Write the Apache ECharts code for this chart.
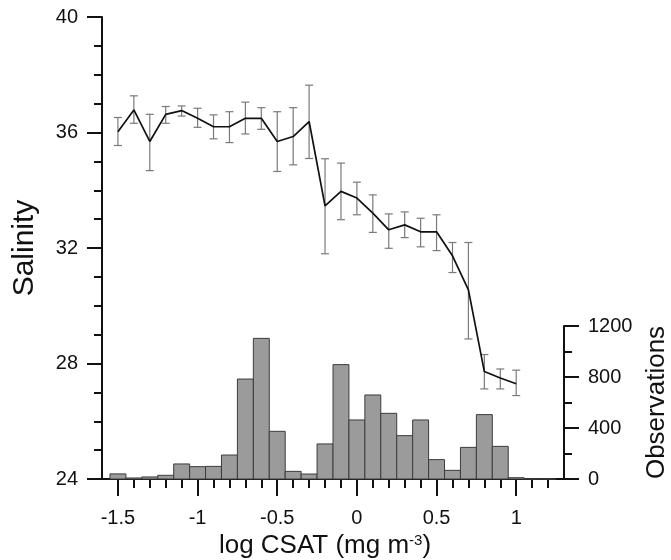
<!DOCTYPE html>
<html>
<head>
    <meta charset="utf-8">
    <title>Salinity vs log CSAT</title>
    <script src="https://cdn.jsdelivr.net/npm/echarts/dist/echarts.min.js"></script>
    <style>
        html, body {margin: 0; padding: 0; background: #fff;}
        #main {width: 671px; height: 560px;}
    </style>
</head>
<body>
<div id="main"></div>
<script>
    // 盐度均值及误差
    var xValues = [-1.5, -1.4, -1.3, -1.2, -1.1, -1.0, -0.9, -0.8, -0.7, -0.6, -0.5, -0.4, -0.3,
        -0.2, -0.1, 0.0, 0.1, 0.2, 0.3, 0.4, 0.5, 0.6, 0.7, 0.8, 0.9, 1.0];
    var salinity = [36.03, 36.78, 35.69, 36.63, 36.76, 36.49, 36.2, 36.2, 36.49, 36.49, 35.69, 35.86, 36.38,
        33.46, 33.96, 33.73, 33.21, 32.63, 32.80, 32.56, 32.56, 31.73, 30.55, 27.72, 27.50, 27.30];
    var errHigh = [36.52, 37.27, 36.63, 36.90, 36.92, 36.84, 36.61, 36.72, 37.05, 36.86, 36.72, 36.86, 37.64,
        35.09, 34.94, 34.28, 33.84, 33.18, 33.25, 33.03, 33.15, 32.19, 32.19, 28.31, 27.81, 27.77];
    var errLow = [35.55, 36.32, 34.68, 36.32, 36.57, 36.18, 35.78, 35.65, 35.95, 36.11, 34.65, 34.88, 35.10,
        31.80, 32.98, 33.15, 32.54, 31.99, 32.36, 32.04, 31.91, 31.15, 28.85, 27.12, 27.12, 26.89];

    // 观测数直方图
    var histX = [-1.5, -1.4, -1.3, -1.2, -1.1, -1.0, -0.9, -0.8, -0.7, -0.6, -0.5, -0.4, -0.3, -0.2,
        -0.1, 0.0, 0.1, 0.2, 0.3, 0.4, 0.5, 0.6, 0.7, 0.8, 0.9, 1.0, 1.1, 1.2];
    var histCount = [40, 8, 16, 29, 118, 97, 99, 188, 784, 1103, 374, 60, 39, 275,
        897, 463, 659, 515, 340, 463, 152, 68, 248, 505, 256, 10, 0, 0];

    // 刻度
    var xMajorTicks = [-1.5, -1, -0.5, 0, 0.5, 1];
    var xMinorTicks = [-1.5, -1.4, -1.3, -1.2, -1.1, -1.0, -0.9, -0.8, -0.7, -0.6, -0.5, -0.4, -0.3, -0.2,
        -0.1, 0.0, 0.1, 0.2, 0.3, 0.4, 0.5, 0.6, 0.7, 0.8, 0.9, 1.0, 1.1, 1.2];

    var binWidth = 0.1;
    var font = 'Liberation Sans, Arial, sans-serif';
    var axisColor = '#111';

    var lineData = xValues.map(function (x, i) { return [x, salinity[i]]; });
    var errData = xValues.map(function (x, i) { return [x, errLow[i], errHigh[i]]; });
    var histData = histX.map(function (x, i) { return [x, histCount[i]]; });

    var chart = echarts.init(document.getElementById('main'));

    var option = {
        backgroundColor: '#fff',
        animation: false,
        grid: [
            {left: 102, right: 107, top: 17, bottom: 81, outerBoundsMode: 'none'},
            {left: 102, right: 107, top: 326, bottom: 81, outerBoundsMode: 'none'}
        ],
        xAxis: [
            {
                gridIndex: 0, type: 'value', min: -1.6, max: 1.3,
                name: 'log CSAT (mg m{sup|-3})',
                nameLocation: 'middle', nameGap: 45,
                nameTextStyle: {
                    fontFamily: font, fontSize: 26, color: '#111', padding: [0, 16, 0, 0],
                    rich: {sup: {fontFamily: font, fontSize: 15, color: '#111', verticalAlign: 'top', padding: [0, 0, 10, 0]}}
                },
                axisLine: {onZero: false, lineStyle: {color: axisColor, width: 2}},
                axisTick: {customValues: xMajorTicks, length: 17, lineStyle: {color: axisColor, width: 2}},
                axisLabel: {customValues: xMajorTicks, margin: 29, fontFamily: font, fontSize: 20, color: '#111'},
                splitLine: {show: false}
            },
            {
                // 次刻度
                gridIndex: 0, type: 'value', min: -1.6, max: 1.3, position: 'bottom',
                axisLine: {show: false, onZero: false},
                axisTick: {customValues: xMinorTicks, length: 9, lineStyle: {color: axisColor, width: 2}},
                axisLabel: {show: false},
                splitLine: {show: false}
            },
            {
                gridIndex: 1, type: 'value', min: -1.6, max: 1.3, show: false,
                axisLine: {onZero: false}
            }
        ],
        yAxis: [
            {
                gridIndex: 0, type: 'value', min: 24, max: 40, interval: 4, position: 'left',
                name: 'Salinity', nameLocation: 'middle', nameGap: 62,
                nameTextStyle: {fontFamily: font, fontSize: 30, color: '#111'},
                axisLine: {show: true, onZero: false, lineStyle: {color: axisColor, width: 2}},
                axisTick: {show: true, length: 15, lineStyle: {color: axisColor, width: 2}},
                minorTick: {show: true, splitNumber: 4, length: 8, lineStyle: {color: axisColor, width: 2}},
                axisLabel: {margin: 24, fontFamily: font, fontSize: 20, color: '#111'},
                splitLine: {show: false}
            },
            {
                gridIndex: 1, type: 'value', min: 0, max: 1200, interval: 400, position: 'right',
                name: 'Observations', nameLocation: 'middle', nameGap: 80,
                nameTextStyle: {fontFamily: font, fontSize: 26, color: '#111'},
                axisLine: {show: true, onZero: false, lineStyle: {color: axisColor, width: 2}},
                axisTick: {show: true, length: 15, lineStyle: {color: axisColor, width: 2}},
                minorTick: {show: true, splitNumber: 2, length: 8, lineStyle: {color: axisColor, width: 2}},
                axisLabel: {
                    margin: 24, fontFamily: font, fontSize: 20, color: '#111',
                    formatter: function (v) { return String(v); }
                },
                splitLine: {show: false}
            }
        ],
        series: [
            {
                type: 'custom', name: 'Observations',
                xAxisIndex: 2, yAxisIndex: 1,
                data: histData,
                renderItem: function (params, api) {
                    var x = api.value(0), h = api.value(1);
                    var p0 = api.coord([x - binWidth / 2, h]);
                    var p1 = api.coord([x + binWidth / 2, 0]);
                    return {
                        type: 'rect',
                        shape: {x: p0[0], y: p0[1], width: p1[0] - p0[0], height: p1[1] - p0[1]},
                        style: {fill: '#9b9b9b', stroke: '#3c3c3c', lineWidth: 1}
                    };
                },
                z: 1
            },
            {
                type: 'custom', name: 'error',
                xAxisIndex: 0, yAxisIndex: 0,
                data: errData,
                renderItem: function (params, api) {
                    var x = api.value(0);
                    var lo = api.coord([x, api.value(1)]);
                    var hi = api.coord([x, api.value(2)]);
                    var cap = 4;
                    var st = {stroke: '#7a7a7a', lineWidth: 1.2};
                    return {
                        type: 'group',
                        children: [
                            {type: 'line', shape: {x1: lo[0], y1: lo[1], x2: hi[0], y2: hi[1]}, style: st},
                            {type: 'line', shape: {x1: lo[0] - cap, y1: lo[1], x2: lo[0] + cap, y2: lo[1]}, style: st},
                            {type: 'line', shape: {x1: hi[0] - cap, y1: hi[1], x2: hi[0] + cap, y2: hi[1]}, style: st}
                        ]
                    };
                },
                z: 2
            },
            {
                type: 'line', name: 'Salinity',
                xAxisIndex: 0, yAxisIndex: 0,
                data: lineData,
                showSymbol: false,
                lineStyle: {color: '#111', width: 1.7},
                z: 3
            }
        ]
    };

    chart.setOption(option);
</script>
</body>
</html>
